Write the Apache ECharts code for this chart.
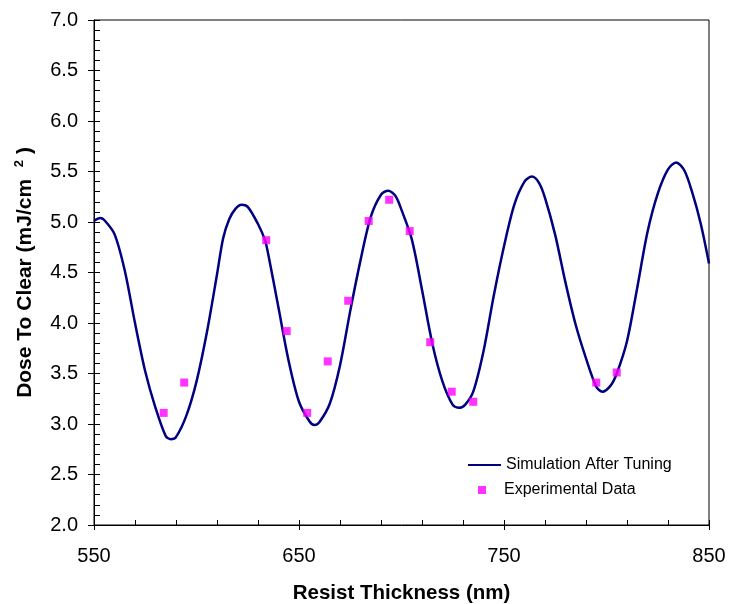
<!DOCTYPE html>
<html>
<head>
<meta charset="utf-8">
<script src="https://cdn.jsdelivr.net/npm/echarts@6/dist/echarts.min.js"></script>
<style>html,body{margin:0;padding:0;background:#fff;}#c{width:730px;height:604px;}</style>
</head>
<body>
<div id="c"></div>
<script>
// Simulation curve (thickness nm, dose mJ/cm2)
var simThickness = [550,553,555,560,565,570,575,580,585,587.5,590,595,600,605,610,613,616,619,622,625,630,633.4,635,640,645,650,655,657.5,660,665,670,675,680,685,690,693.5,697,700,705,710,715,720,725,728,731,735,740,745,750,755,760,763.6,767,770,775,780,785,790,795,798,802,805,810,815,820,825,830,834,838,842,846,850];
var simDose = [5.01,5.04,5.02,4.88,4.52,4.00,3.52,3.16,2.88,2.85,2.87,3.08,3.42,3.90,4.48,4.84,5.03,5.13,5.17,5.15,4.98,4.82,4.68,4.15,3.62,3.22,3.03,2.99,3.02,3.20,3.58,4.12,4.62,5.05,5.27,5.31,5.26,5.12,4.83,4.33,3.80,3.42,3.19,3.16,3.19,3.32,3.72,4.27,4.76,5.17,5.40,5.45,5.39,5.24,4.87,4.40,3.98,3.65,3.37,3.32,3.38,3.50,3.82,4.35,4.90,5.28,5.52,5.59,5.51,5.28,4.98,4.59];
// Experimental data
var expThickness = [584,594,634,644,654,664,674,684,694,704,714,724.5,735,795,805];
var expDose = [3.11,3.41,4.82,3.92,3.11,3.62,4.22,5.01,5.22,4.91,3.81,3.32,3.22,3.41,3.51];
var seriesNames = ['Simulation After Tuning','Experimental Data'];
var xTitle = 'Resist Thickness (nm)';
var yTitle = '{t|Dose To Clear (mJ/cm  }{s|2}{t| )}';

function zip(a,b){var r=[];for(var i=0;i<a.length;i++){r.push([a[i],b[i]]);}return r;}

var FONT = 'Liberation Sans, Arial, sans-serif';
var chart = echarts.init(document.getElementById('c'), null, {renderer:'canvas'});
var xBase = {type:'value', min:550, max:850, interval:100, gridIndex:0, position:'bottom'};
var yBase = {type:'value', min:2, max:7, interval:0.5, gridIndex:0, position:'left'};
chart.setOption({
  animation:false,
  backgroundColor:'#fff',
  grid:{left:94, right:21, top:20, bottom:79, show:true, borderColor:'#000', borderWidth:1, containLabel:false, outerBoundsMode:'none'},
  legend:[
    {
      orient:'vertical', left:467, top:457, padding:0, itemWidth:33, itemHeight:8,
      itemStyle:{opacity:0},
      data:[{name:seriesNames[0]}],
      textStyle:{fontFamily:FONT, fontSize:16, color:'#000', lineHeight:16}
    },
    {
      orient:'vertical', left:478, top:482, padding:0, itemWidth:8, itemHeight:8,
      data:[{name:seriesNames[1], icon:'rect'}],
      textStyle:{fontFamily:FONT, fontSize:16, color:'#000', lineHeight:16, padding:[0,0,0,13]}
    }
  ],
  xAxis:[
    Object.assign({}, xBase, {
      name:xTitle, nameLocation:'middle', nameGap:58,
      nameTextStyle:{fontFamily:FONT, fontSize:20.5, fontWeight:'bold', color:'#000'},
      axisLine:{show:true, lineStyle:{color:'#000', width:1}},
      axisTick:{show:true, inside:true, length:5, lineStyle:{color:'#000'}},
      minorTick:{show:true, splitNumber:5, length:5, lineStyle:{color:'#000'}},
      axisLabel:{fontFamily:FONT, fontSize:20, color:'#000', margin:21},
      splitLine:{show:false}
    }),
    Object.assign({}, xBase, {
      axisLine:{show:false}, axisLabel:{show:false}, splitLine:{show:false},
      axisTick:{show:true, inside:false, length:5, lineStyle:{color:'#000'}}
    })
  ],
  yAxis:[
    Object.assign({}, yBase, {
      name:yTitle, nameLocation:'middle', nameGap:57,
      nameTextStyle:{
        rich:{
          t:{fontFamily:FONT, fontSize:21, fontWeight:'bold', color:'#000', lineHeight:24},
          s:{fontFamily:FONT, fontSize:13, fontWeight:'bold', color:'#000', verticalAlign:'top', lineHeight:24}
        }
      },
      axisLine:{show:true, lineStyle:{color:'#000', width:1}},
      axisTick:{show:true, inside:true, length:6, lineStyle:{color:'#000'}},
      minorTick:{show:true, splitNumber:5, length:6, lineStyle:{color:'#000'}},
      axisLabel:{fontFamily:FONT, fontSize:20, color:'#000', margin:16, formatter:function(v){return v.toFixed(1);}},
      splitLine:{show:false}
    }),
    Object.assign({}, yBase, {
      axisLine:{show:false}, axisLabel:{show:false}, splitLine:{show:false},
      axisTick:{show:true, inside:false, length:6, lineStyle:{color:'#000'}}
    })
  ],
  series:[
    {name:seriesNames[0], type:'line', xAxisIndex:0, yAxisIndex:0, data:zip(simThickness, simDose),
     smooth:0.3, showSymbol:false, symbol:'none', lineStyle:{color:'#000080', width:2.5}, itemStyle:{color:'#000080'}, z:2},
    {name:seriesNames[1], type:'scatter', xAxisIndex:0, yAxisIndex:0, data:zip(expThickness, expDose),
     symbol:'rect', symbolSize:8, itemStyle:{color:'#FF00FF'}, z:3}
  ]
});
</script>
</body>
</html>
